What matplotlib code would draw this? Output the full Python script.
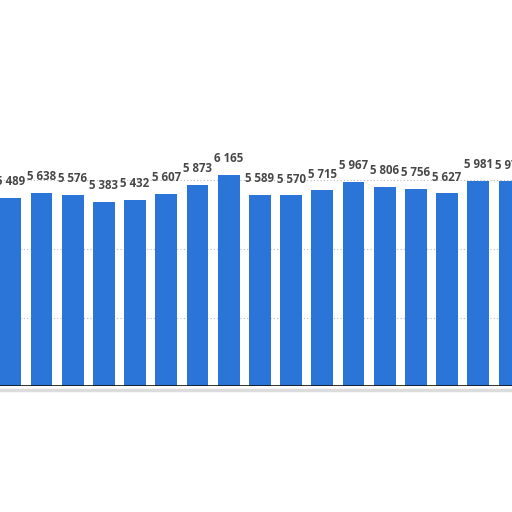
import matplotlib
matplotlib.use("Agg")
import matplotlib.pyplot as plt
from matplotlib.lines import Line2D

values = [5489, 5638, 5576, 5383, 5432, 5607, 5873, 6165, 5589, 5570,
          5715, 5967, 5806, 5756, 5627, 5981, 5975]
labels = ["5 489", "5 638", "5 576", "5 383", "5 432", "5 607", "5 873", "6 165",
          "5 589", "5 570", "5 715", "5 967", "5 806", "5 756", "5 627", "5 981", "5 975"]
grid_values = [2000, 4000, 6000]

fig = plt.figure(figsize=(5.12, 5.12), dpi=100)
ax = fig.add_axes([0, 126 / 512, 1, 274 / 512])
x = list(range(len(values)))
ax.bar(x, values, width=0.695, color="#2b74d8", zorder=2)
for xi, v, lab in zip(x, values, labels):
    ax.annotate(lab, (xi, v), xytext=(0, 7), textcoords="offset points",
                ha="center", va="bottom", fontsize=8.3, color="#474747",
                fontweight="bold", family=["Open Sans", "DejaVu Sans"])
for g in grid_values:
    ax.axhline(g, color="#bbbbbb", lw=0.8, ls=(0, (1, 2)), zorder=1)
ax.axhline(0, color="#111111", lw=1.2, zorder=3)
ax.set_xlim(-0.33, 16.08)
ax.set_ylim(0, 8000)
ax.axis("off")
# soft shadow below axis
fig.add_artist(Line2D([0, 1], [1 - 390 / 512, 1 - 390 / 512], transform=fig.transFigure,
                      color="#dcdcdc", lw=2.5))
fig.savefig("out.png", dpi=100, facecolor="white")
